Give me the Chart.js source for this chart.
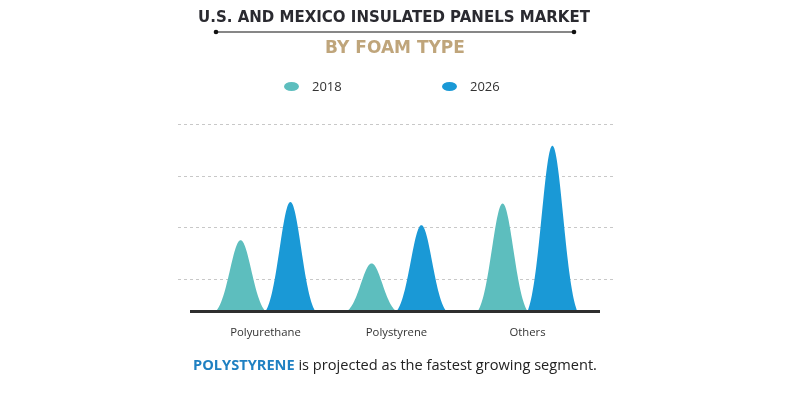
<!DOCTYPE html>
<html>
<head>
<meta charset="utf-8">
<script src="https://cdn.jsdelivr.net/npm/chart.js@4.4.1/dist/chart.umd.min.js"></script>
<style>
  html, body { margin: 0; padding: 0; background: #fff; }
  #wrap { width: 790px; height: 393px; position: relative; }
</style>
</head>
<body>
<div id="wrap"><canvas id="chart" width="790" height="393"></canvas></div>
<script>
var categories = ['Polyurethane', 'Polystyrene', 'Others'];
var years = ['2018', '2026'];
var values2018 = [17.5, 13.0, 24.6];
var values2026 = [24.9, 20.4, 35.8];
var gridTicks = [10, 20, 30, 40];
var yMin = 3.7;
var yMax = 40;

var titleText = 'U.S. AND MEXICO INSULATED PANELS MARKET';
var subtitleText = 'BY FOAM TYPE';
var footerBold = 'POLYSTYRENE';
var footerRest = ' is projected as the fastest growing segment.';

var colors = ['#5dbebe', '#1a99d6'];

// draws each bar as a bell shaped peak, using the bar geometry from the scales
var bellBars = {
    id: 'bellBars',
    beforeDatasetsDraw: function (chart) {
        var ctx = chart.ctx;
        var s = 0.43;
        var g1 = Math.exp(-1 / (2 * s * s));
        chart.data.datasets.forEach(function (ds, i) {
            var meta = chart.getDatasetMeta(i);
            ctx.save();
            ctx.fillStyle = ds.backgroundColor;
            meta.data.forEach(function (bar) {
                var half = bar.width / 2;
                var h = bar.base - bar.y;
                ctx.beginPath();
                ctx.moveTo(bar.x - half, bar.base);
                for (var k = 0; k <= 80; k++) {
                    var t = -1 + k / 40;
                    var g = (Math.exp(-(t * t) / (2 * s * s)) - g1) / (1 - g1);
                    ctx.lineTo(bar.x + t * half, bar.base - g * h);
                }
                ctx.closePath();
                ctx.fill();
            });
            ctx.restore();
        });
        return false;
    }
};

// dashed grid lines, axis line, header, legend and footer
var decorations = {
    id: 'decorations',
    beforeDatasetsDraw: function (chart) {
        var ctx = chart.ctx;
        var y = chart.scales.y;
        ctx.save();
        ctx.strokeStyle = '#c8c8c8';
        ctx.lineWidth = 1;
        ctx.setLineDash([3, 3]);
        gridTicks.forEach(function (v) {
            var py = Math.round(y.getPixelForValue(v)) + 0.5;
            ctx.beginPath();
            ctx.moveTo(178, py);
            ctx.lineTo(613, py);
            ctx.stroke();
        });
        ctx.restore();
    },
    afterDraw: function (chart) {
        var ctx = chart.ctx;
        var y = chart.scales.y;
        ctx.save();
        // x axis line
        var base = y.getPixelForValue(yMin);
        ctx.strokeStyle = '#2e2e2e';
        ctx.lineWidth = 3;
        ctx.beginPath();
        ctx.moveTo(190, base);
        ctx.lineTo(600, base);
        ctx.stroke();

        // title
        ctx.textAlign = 'center';
        ctx.textBaseline = 'alphabetic';
        ctx.fillStyle = '#2a2a30';
        ctx.font = 'bold 15px "DejaVu Sans"';
        ctx.fillText(titleText, 394, 22);
        ctx.strokeStyle = '#111';
        ctx.lineWidth = 1.2;
        ctx.beginPath();
        ctx.moveTo(216, 32);
        ctx.lineTo(574, 32);
        ctx.stroke();
        ctx.fillStyle = '#111';
        [216, 574].forEach(function (px) {
            ctx.beginPath();
            ctx.arc(px, 32, 2.3, 0, Math.PI * 2);
            ctx.fill();
        });
        ctx.fillStyle = '#bfa57b';
        ctx.font = 'bold 17px "DejaVu Sans"';
        ctx.fillText(subtitleText, 395, 53);

        // legend
        ctx.font = '13px "Open Sans"';
        ctx.textAlign = 'left';
        ctx.textBaseline = 'middle';
        var legendX = [284, 442];
        chart.data.datasets.forEach(function (ds, i) {
            var lx = legendX[i];
            ctx.fillStyle = ds.backgroundColor;
            ctx.beginPath();
            ctx.ellipse(lx + 7.5, 86.5, 7.5, 4.5, 0, 0, Math.PI * 2);
            ctx.fill();
            ctx.fillStyle = '#333';
            ctx.fillText(ds.label, lx + 28, 87);
        });

        // footer
        ctx.textBaseline = 'alphabetic';
        ctx.font = 'bold 14.6px "Open Sans"';
        var wb = ctx.measureText(footerBold).width;
        ctx.font = '14.6px "Open Sans"';
        var wr = ctx.measureText(footerRest).width;
        var fx = 395 - (wb + wr) / 2;
        ctx.font = 'bold 14.6px "Open Sans"';
        ctx.fillStyle = '#1f80c2';
        ctx.fillText(footerBold, fx, 370);
        ctx.font = '14.6px "Open Sans"';
        ctx.fillStyle = '#222';
        ctx.fillText(footerRest, fx + wb, 370);
        ctx.restore();
    }
};

new Chart('chart', {
    type: 'bar',
    data: {
        labels: categories,
        datasets: [
            { label: years[0], data: values2018, backgroundColor: colors[0], base: yMin },
            { label: years[1], data: values2026, backgroundColor: colors[1], base: yMin }
        ]
    },
    options: {
        responsive: false,
        animation: false,
        events: [],
        layout: { padding: { top: 124, left: 200, right: 197, bottom: 46 } },
        plugins: {
            legend: { display: false },
            tooltip: { enabled: false }
        },
        datasets: {
            bar: { barPercentage: 1, categoryPercentage: 0.76 }
        },
        scales: {
            y: {
                display: false,
                min: yMin,
                max: yMax,
                ticks: { stepSize: 10 }
            },
            x: {
                grid: { display: false },
                border: { display: false },
                ticks: {
                    color: '#333',
                    padding: 7,
                    font: { family: 'Open Sans', size: 11.3 }
                }
            }
        }
    },
    plugins: [decorations, bellBars]
});
</script>
</body>
</html>
